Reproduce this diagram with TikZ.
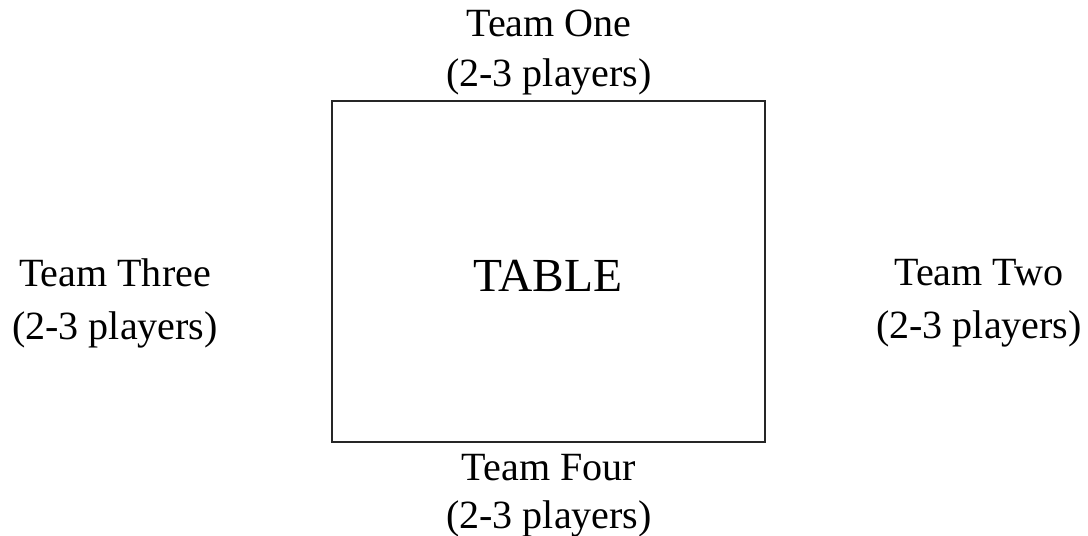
\documentclass[tikz,border=0pt]{standalone}
\usepackage{fontspec}
\setmainfont{Liberation Serif}
\begin{document}
\begin{tikzpicture}[x=0.02cm,y=-0.02cm,
  team/.style={align=center,inner sep=0pt,font=\fontsize{22.8}{30.2}\selectfont},
  tablebox/.style={draw=black!85,line width=0.9pt}]
\useasboundingbox (0,0) rectangle (1088,536);
\node[tablebox,minimum width=433*0.02cm,minimum height=341*0.02cm,inner sep=0pt] (table) at (548.5,271.5) {};
\node[font=\fontsize{27.0}{30}\selectfont,inner sep=0pt] (label) at (548,276) {TABLE};
\node[team,font=\fontsize{22.8}{28.5}\selectfont] (one) at (549,53) {Team One\\(2-3 players)};
\node[team] (two) at (979,303.5) {Team Two\\(2-3 players)};
\node[team] (three) at (115,303.5) {Team Three\\(2-3 players)};
\node[team,font=\fontsize{22.8}{27.3}\selectfont] (four) at (549,496) {Team Four\\(2-3 players)};
\end{tikzpicture}
\end{document}
